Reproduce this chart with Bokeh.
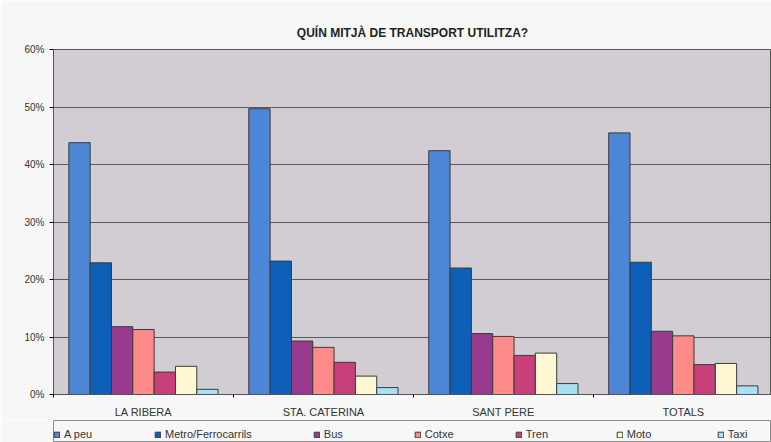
import numpy as np
from bokeh.plotting import figure
from bokeh.layouts import column
from bokeh.models import (Range1d, FixedTicker, PrintfTickFormatter, Legend, LegendItem)
from bokeh.embed import file_html
from bokeh.resources import INLINE

# ---- data ----
categories = ["LA RIBERA", "STA. CATERINA", "SANT PERE", "TOTALS"]
series_names = ["A peu", "Metro/Ferrocarrils", "Bus", "Cotxe", "Tren", "Moto", "Taxi"]
a_peu = [43.8, 49.7, 42.4, 45.5]
metro = [22.9, 23.2, 22.0, 23.0]
bus = [11.8, 9.3, 10.6, 11.0]
cotxe = [11.3, 8.2, 10.1, 10.2]
tren = [3.9, 5.6, 6.8, 5.2]
moto = [4.9, 3.2, 7.2, 5.4]
taxi = [0.9, 1.2, 1.9, 1.5]
y_ticks = [0, 10, 20, 30, 40, 50, 60]

series_values = [a_peu, metro, bus, cotxe, tren, moto, taxi]
colors = ["#4d86d6", "#0d5fb8", "#983a8e", "#ff8a8a", "#c8407a", "#fff6d2", "#a6e0f2"]

FONT = "Liberation Sans"
BG = "#f7f7f7"

p = figure(width=771, height=420, output_backend="svg", toolbar_location=None,
           x_range=Range1d(0, 3.99), y_range=Range1d(0, 60),
           min_border_left=53, min_border_right=0, min_border_top=49, min_border_bottom=26)

p.background_fill_color = "#d2cdd2"
p.border_fill_color = BG
p.outline_line_color = "#555555"
p.outline_line_width = 1

p.title.text = "QUÍN MITJÀ DE TRANSPORT UTILITZA?"
p.title.align = "center"
p.title.text_font = FONT
p.title.text_font_size = "12px"
p.title.text_font_style = "bold"
p.title.text_color = "#222222"
p.title.standoff = 19

n_cat = len(categories)
centers = np.arange(n_cat) + 0.5
bw = 0.1185
for i, (name, vals, col) in enumerate(zip(series_names, series_values, colors)):
    xs = centers + (i - 3) * bw
    p.vbar(x=xs, top=vals, width=bw, bottom=0, fill_color=col,
           line_color="#3a3a3a", line_width=1)

# axes
p.xaxis.ticker = FixedTicker(ticks=list(centers), minor_ticks=list(range(n_cat + 1)))
p.xaxis.major_label_overrides = {float(c): lab for c, lab in zip(centers, categories)}
p.xaxis.major_tick_out = 0
p.xaxis.major_tick_in = 0
p.xaxis.minor_tick_out = 3
p.xaxis.minor_tick_in = 0
p.xaxis.major_label_standoff = 8
p.xaxis.major_label_text_font = FONT
p.xaxis.major_label_text_font_size = "11px"
p.xaxis.major_label_text_color = "#333333"
p.xaxis.axis_line_color = "#555555"

p.yaxis.ticker = FixedTicker(ticks=y_ticks)
p.yaxis.formatter = PrintfTickFormatter(format="%d%%")
p.yaxis.major_tick_out = 4
p.yaxis.major_tick_in = 0
p.yaxis.minor_tick_line_color = None
p.yaxis.major_label_standoff = 5
p.yaxis.major_label_text_font = FONT
p.yaxis.major_label_text_font_size = "10px"
p.yaxis.major_label_text_color = "#333333"
p.yaxis.axis_line_color = "#555555"

p.xgrid.grid_line_color = None
p.ygrid.grid_line_color = "#5a5a5a"
p.ygrid.grid_line_width = 1

# ---- legend strip (same series drawn outside its visible range; only the key shows) ----
p2 = figure(width=771, height=22, output_backend="svg", toolbar_location=None,
            x_range=Range1d(-20, -19), y_range=Range1d(0, 1),
            min_border_left=53, min_border_right=0, min_border_top=0, min_border_bottom=0,
            x_axis_location=None, y_axis_location=None)
p2.xgrid.visible = False
p2.ygrid.visible = False
p2.background_fill_color = BG
p2.border_fill_color = BG
p2.outline_line_color = "#8a8a8a"

items = []
for i, (name, vals, col) in enumerate(zip(series_names, series_values, colors)):
    xs = centers + (i - 3) * bw
    r = p2.vbar(x=xs, top=vals, width=bw, fill_color=col, line_color="#3a3a3a")
    items.append(LegendItem(label=name, renderers=[r]))

legend = Legend(items=items, orientation="horizontal", location=(0, 2),
                glyph_width=7, glyph_height=7, label_width=29, label_height=9,
                label_standoff=4, spacing=61, padding=3, margin=0,
                label_text_font=FONT, label_text_font_size="11px",
                label_text_color="#333333",
                border_line_color=None, background_fill_alpha=0)
p2.add_layout(legend, "center")

open("out.html", "w").write(file_html(column(p, p2, spacing=0), INLINE))
